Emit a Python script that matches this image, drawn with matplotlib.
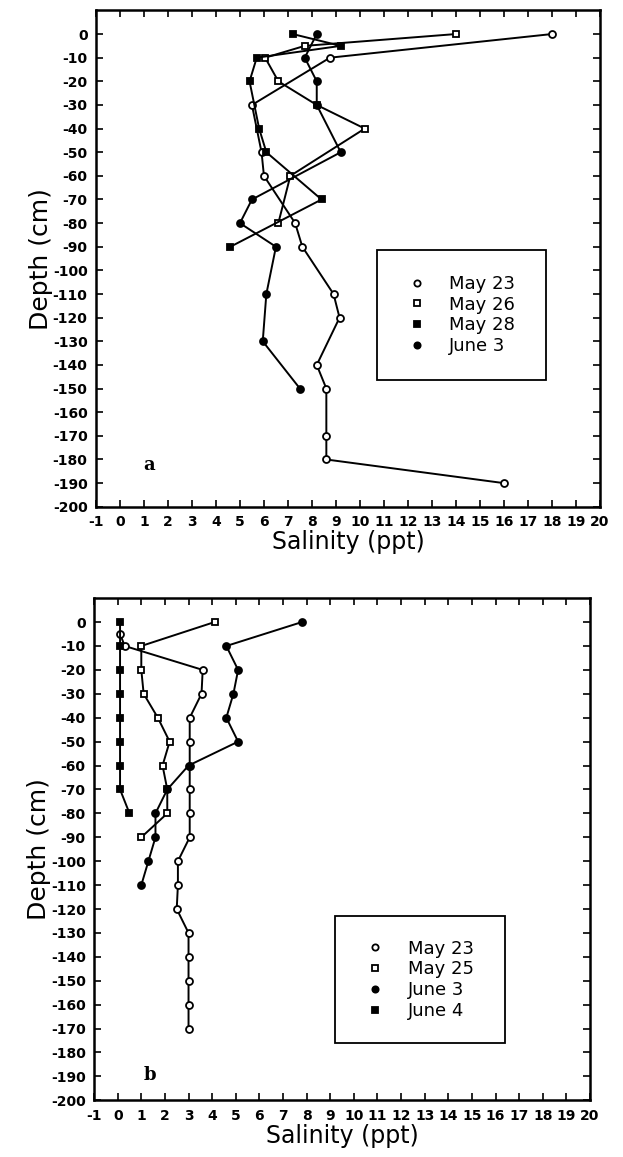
import matplotlib
matplotlib.use('Agg')
import matplotlib.pyplot as plt
from matplotlib.patches import Rectangle

plt.rcParams['font.family'] = ['DejaVu Sans']
plt.rcParams['axes.unicode_minus'] = False

# panel a  (depth cm, salinity ppt)
a_may23_depth = [0, -10, -30, -50, -60, -80, -90, -110, -120, -140, -150, -170, -180, -190]
a_may23_sal = [18.0, 8.75, 5.5, 5.9, 6.0, 7.3, 7.6, 8.9, 9.15, 8.2, 8.6, 8.6, 8.6, 16.0]
a_may26_depth = [0, -5, -10, -20, -30, -40, -60, -80]
a_may26_sal = [14.0, 7.7, 6.05, 6.6, 8.2, 10.2, 7.1, 6.6]
a_may28_depth = [0, -5, -10, -20, -40, -50, -70, -90]
a_may28_sal = [7.2, 9.2, 5.7, 5.4, 5.8, 6.1, 8.4, 4.6]
a_jun3_depth = [0, -10, -20, -30, -50, -70, -80, -90, -110, -130, -150]
a_jun3_sal = [8.2, 7.7, 8.2, 8.2, 9.2, 5.5, 5.0, 6.5, 6.1, 5.95, 7.5]

# panel b
b_may23_depth = [-5, -10, -20, -30, -40, -50, -60, -70, -80, -90, -100, -110, -120,
                 -130, -140, -150, -160, -170]
b_may23_sal = [0.1, 0.3, 3.6, 3.55, 3.05, 3.05, 3.05, 3.05, 3.05, 3.05, 2.55, 2.55, 2.5,
               3.0, 3.0, 3.0, 3.0, 3.0]
b_may25_depth = [0, -10, -20, -30, -40, -50, -60, -70, -80, -90]
b_may25_sal = [4.1, 1.0, 1.0, 1.1, 1.7, 2.2, 1.9, 2.1, 2.1, 1.0]
b_jun3_depth = [0, -10, -20, -30, -40, -50, -60, -70, -80, -90, -100, -110]
b_jun3_sal = [7.8, 4.6, 5.1, 4.9, 4.6, 5.1, 3.0, 2.1, 1.6, 1.6, 1.3, 1.0]
b_jun4_depth = [0, -10, -20, -30, -40, -50, -60, -70, -80]
b_jun4_sal = [0.1, 0.1, 0.1, 0.1, 0.1, 0.1, 0.1, 0.1, 0.5]

open_c = dict(marker='o', mfc='white', mec='black')
open_s = dict(marker='s', mfc='white', mec='black')
fill_s = dict(marker='s', mfc='black', mec='black')
fill_c = dict(marker='o', mfc='black', mec='black')

panels = [
    dict(rect=[0.154, 0.562, 0.809, 0.429], letter='a',
         series=[('May 23', a_may23_sal, a_may23_depth, open_c),
                 ('May 26', a_may26_sal, a_may26_depth, open_s),
                 ('May 28', a_may28_sal, a_may28_depth, fill_s),
                 ('June 3', a_jun3_sal, a_jun3_depth, fill_c)],
         box=(0.557, 0.2555, 0.336, 0.2615), letter_xy=(0.093, 0.075)),
    dict(rect=[0.151, 0.049, 0.796, 0.434], letter='b',
         series=[('May 23', b_may23_sal, b_may23_depth, open_c),
                 ('May 25', b_may25_sal, b_may25_depth, open_s),
                 ('June 3', b_jun3_sal, b_jun3_depth, fill_c),
                 ('June 4', b_jun4_sal, b_jun4_depth, fill_s)],
         box=(0.486, 0.1135, 0.343, 0.253), letter_xy=(0.099, 0.04)),
]

fig = plt.figure(figsize=(6.23, 11.57), dpi=100)

for p in panels:
    ax = fig.add_axes(p['rect'])
    handles = []
    for label, x, y, style in p['series']:
        ax.plot(x, y, color='black', lw=1.4, ms=5, mew=1.3, **style)
        h, = ax.plot([], [], ls='none', ms=4.5, mew=1.3, **style)
        handles.append((h, label))

    ax.set_xlim(-1, 20)
    ax.set_ylim(-200, 10)
    ax.set_xticks(range(-1, 21))
    ax.set_yticks(range(-200, 1, 10))
    ax.tick_params(direction='in', top=True, right=True, labeltop=False, labelright=False,
                   length=5, width=1.2, labelsize=10, pad=6)
    for lab in ax.get_xticklabels() + ax.get_yticklabels():
        lab.set_fontweight('bold')
    for s in ax.spines.values():
        s.set_linewidth(1.8)
    ax.set_xlabel('Salinity (ppt)', fontsize=17, labelpad=1)
    ax.set_ylabel('Depth (cm)', fontsize=18, labelpad=0)

    bx, by, bw, bh = p['box']
    ax.add_patch(Rectangle((bx, by), bw, bh, transform=ax.transAxes, fill=False,
                           ec='black', lw=1.3, zorder=5))
    ax.legend([h for h, _ in handles], [l for _, l in handles], loc='center',
              bbox_to_anchor=(bx + bw / 2, by + bh / 2), frameon=False,
              handlelength=1.0, handletextpad=1.3, labelspacing=0.15, fontsize=13)

    ax.text(p['letter_xy'][0], p['letter_xy'][1], p['letter'], transform=ax.transAxes,
            fontsize=13, fontweight='bold', family='DejaVu Serif')

fig.savefig('out.png', dpi=100)
